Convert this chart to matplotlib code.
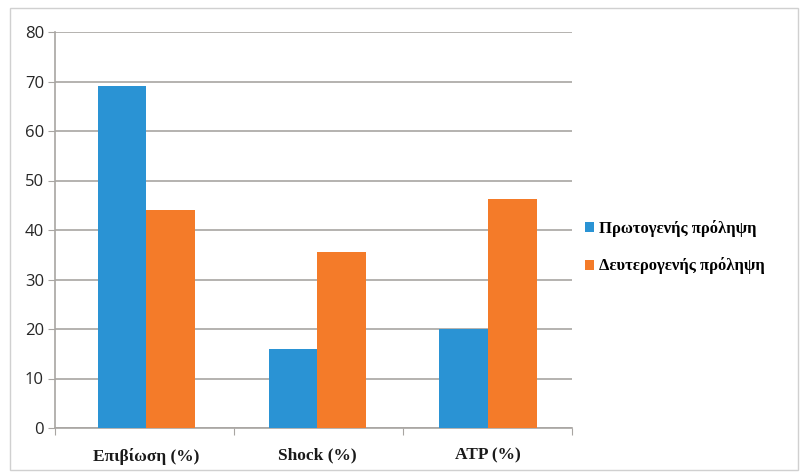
import matplotlib
matplotlib.use("Agg")
import matplotlib.pyplot as plt
import numpy as np
from matplotlib.patches import Rectangle

categories = ["Επιβίωση (%)", "Shock (%)", "ATP (%)"]
series_names = ["Πρωτογενής πρόληψη", "Δευτερογενής πρόληψη"]
primary = [69, 16, 20]
secondary = [44, 35.5, 46.3]
y_ticks = [0, 10, 20, 30, 40, 50, 60, 70, 80]

blue = "#2a93d4"
orange = "#f47b29"
grid_col = "#a8a5a2"

fig = plt.figure(figsize=(8.03, 4.75), dpi=100)
fig.patch.set_facecolor("white")
# light outer chart border
fig.patches.append(Rectangle((10 / 803, 5 / 475), 788 / 803, 462 / 475,
                             transform=fig.transFigure, fill=False,
                             edgecolor="#d0d0d0", linewidth=1.0))

ax = fig.add_axes([55 / 803, 1 - 428 / 475, (572 - 55) / 803, (428 - 32) / 475])

x = np.arange(len(categories))
w = 1 / 3.5
ax.bar(x - w / 2, primary, width=w, color=blue, label=series_names[0], zorder=3)
ax.bar(x + w / 2, secondary, width=w, color=orange, label=series_names[1], zorder=3)

ax.set_xlim(-0.535, 2.49)
ax.set_ylim(0, 80)
ax.set_yticks(y_ticks)
ax.yaxis.grid(True, color=grid_col, linewidth=1.2, zorder=0)
ax.set_axisbelow(True)

for s in ["top", "right"]:
    ax.spines[s].set_visible(False)
ax.spines["left"].set_color(grid_col)
ax.spines["bottom"].set_color(grid_col)
ax.spines["left"].set_linewidth(1.2)
ax.spines["bottom"].set_linewidth(1.2)

ax.tick_params(axis="y", length=5, color=grid_col, labelsize=12,
               labelcolor="#262626", pad=3, direction="out")
ax.set_yticklabels([str(v) for v in y_ticks], family="Open Sans")

# category boundaries as tick marks, labels centered under groups
ax.set_xticks([-0.535, 0.51, 1.5, 2.49])
ax.set_xticklabels([])
ax.tick_params(axis="x", length=5, color=grid_col, direction="out")
for xi, lab in zip(x, categories):
    ax.text(xi, -4.0, lab, ha="center", va="top", fontsize=12.5,
            family="Liberation Serif", fontweight="bold", color="#1a1a1a",
            transform=ax.transData)

leg = fig.legend(loc="center left", bbox_to_anchor=(570 / 803, 1 - 247 / 475),
                 frameon=False, handlelength=0.55, handleheight=0.55,
                 handletextpad=0.3, labelspacing=1.25,
                 prop={"family": "Liberation Serif", "weight": "bold", "size": 12})

fig.savefig("out.png", dpi=100, facecolor="white")
